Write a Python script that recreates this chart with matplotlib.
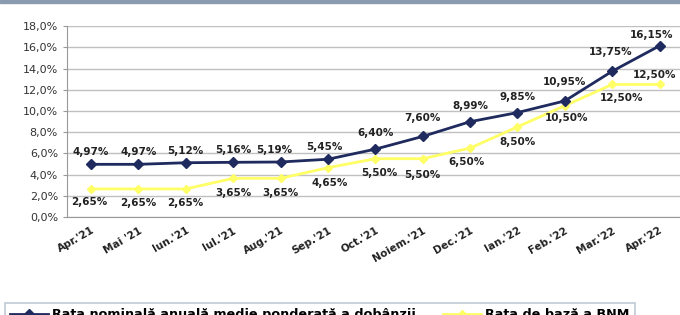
import matplotlib.pyplot as plt
from matplotlib.patches import Rectangle

months = ["Apr.'21", "Mai '21", "Iun.'21", "Iul.'21", "Aug.'21", "Sep.'21", "Oct.'21",
          "Noiem.'21", "Dec.'21", "Ian.'22", "Feb.'22", "Mar.'22", "Apr.'22"]
rata_medie = [4.97, 4.97, 5.12, 5.16, 5.19, 5.45, 6.40, 7.60, 8.99, 9.85, 10.95, 13.75, 16.15]
rata_bnm = [2.65, 2.65, 2.65, 3.65, 3.65, 4.65, 5.50, 5.50, 6.50, 8.50, 10.50, 12.50, 12.50]
yticks = [0, 2, 4, 6, 8, 10, 12, 14, 16, 18]

name_medie = "Rata nominală anuală medie ponderată a dobânzii"
name_bnm = "Rata de bază a BNM"

navy = "#1f2a5e"
yellow = "#ffff66"

fig = plt.figure(figsize=(6.8, 3.15), dpi=100)
ax = fig.add_axes([0.0985, 0.311, 0.9015, 0.606])

# grey band on top
fig.patches.append(Rectangle((0, 0.99), 1, 0.01, transform=fig.transFigure,
                             color="#8a9bb0", zorder=0))

x = list(range(len(months)))
ax.plot(x, rata_bnm, color=yellow, lw=2, marker="D", ms=4, label=name_bnm, zorder=3)
ax.plot(x, rata_medie, color=navy, lw=2, marker="D", ms=5, label=name_medie, zorder=4)

# data labels (offsets in pixels)
off_medie = [(0, 12), (0, 12), (0, 12), (0, 12), (-6, 12), (-4, 12), (0, 16),
             (0, 18), (0, 16), (0, 16), (0, 19), (-2, 19), (-8, 11)]
off_bnm = [(-2, -13), (0, -14), (0, -14), (0, -15), (0, -15), (2, -15), (4, -14),
           (0, -16), (-4, -14), (0, -15), (2, -12), (9, -14), (-5, 9)]
for i, v in enumerate(rata_medie):
    ax.annotate(f"{v:.2f}%".replace(".", ","), (i, v), xytext=off_medie[i],
                textcoords="offset pixels", ha="center", va="center",
                fontsize=7.5, fontweight="bold", color="#222222", zorder=5)
for i, v in enumerate(rata_bnm):
    ax.annotate(f"{v:.2f}%".replace(".", ","), (i, v), xytext=off_bnm[i],
                textcoords="offset pixels", ha="center", va="center",
                fontsize=7.5, fontweight="bold", color="#222222", zorder=5)

ax.set_xlim(-0.506, 12.43)
ax.set_ylim(0, 18)
ax.set_yticks(yticks)
ax.set_yticklabels([f"{t:.1f}%".replace(".", ",") for t in yticks], fontsize=8, color="#333333")
ax.set_xticks(x)
ax.set_xticklabels(months, rotation=30, ha="right", rotation_mode="anchor",
                   fontsize=7.5, fontweight="bold", color="#222222")
ax.tick_params(axis="x", length=0, pad=6)
ax.tick_params(axis="y", length=3, color="#999999")
ax.grid(axis="y", color="#c0c0c0", lw=1)
ax.set_axisbelow(True)
for s in ["top", "right"]:
    ax.spines[s].set_visible(False)
ax.spines["left"].set_color("#999999")
ax.spines["bottom"].set_color("#999999")

h, l = ax.get_legend_handles_labels()
leg = fig.legend(h[::-1], l[::-1], loc="upper left", bbox_to_anchor=(5 / 680, 1 - 303 / 315),
                 ncol=2, frameon=True, fancybox=False, edgecolor="#b0bccb",
                 prop={"size": 9.2, "weight": "bold"}, handlelength=3.0,
                 handletextpad=0.3, columnspacing=2.1, borderaxespad=0)
leg.get_frame().set_linewidth(1.2)

fig.savefig("out.png", dpi=100)
